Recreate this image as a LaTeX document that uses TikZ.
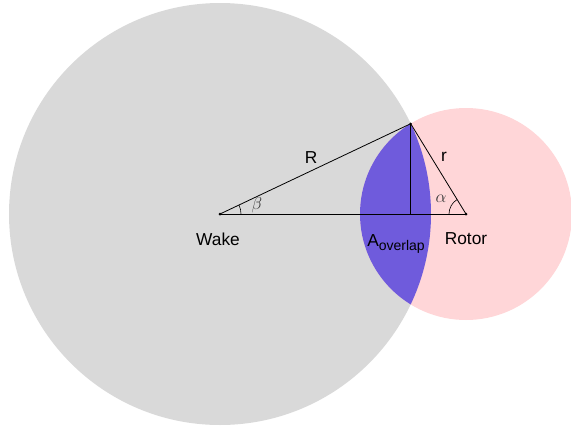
\documentclass[tikz,border=0pt]{standalone}
\usepackage{fontspec}
\setmainfont{Liberation Sans}
\usetikzlibrary{angles}
\definecolor{wakegray}{RGB}{217,217,217}
\definecolor{rotorpink}{RGB}{255,214,216}
\definecolor{overlapblue}{RGB}{111,91,220}
\definecolor{greekgray}{RGB}{55,55,55}
\begin{document}
\begin{tikzpicture}[x=1pt,y=-1pt,
  lbl/.style={font=\fontsize{17.3}{20}\selectfont, inner sep=0pt},
  greek/.style={font=\fontsize{18}{21}\selectfont, text=greekgray, inner sep=0pt},
  edge/.style={draw=black, line width=0.8pt},
  dotm/.style={circle, fill=black, inner sep=0pt, minimum size=3pt}]
\useasboundingbox (0,0) rectangle (571,437);
\coordinate (wake) at (220,214);
\coordinate (rotor) at (466,214);
\coordinate (P) at (410.7,123.7);
\coordinate (F) at (410.7,214);
\fill[wakegray] (wake) circle[radius=211];
\fill[rotorpink] (rotor) circle[radius=106];
\begin{scope}
  \clip (wake) circle[radius=211];
  \fill[overlapblue] (rotor) circle[radius=106];
\end{scope}
\draw[edge] (wake) -- (P);
\draw[edge] (P) -- (rotor);
\draw[edge] (wake) -- (rotor);
\draw[edge] (P) -- (F);
\pic[draw=black, line width=0.6pt, angle radius=21pt] {angle = rotor--wake--P};
\pic[draw=black, line width=0.6pt, angle radius=17pt] {angle = P--rotor--wake};
\node[dotm] (wakedot) at (wake) {};
\node[dotm] (rotordot) at (rotor) {};
\node[dotm, minimum size=2.5pt] (Pdot) at (P) {};
\node[lbl] (wakelbl) at (218,239) {Wake};
\node[lbl] (rotorlbl) at (466,239) {Rotor};
\node[lbl] (Rlbl) at (311,158) {R};
\node[lbl] (rlbl) at (444,157) {r};
\node[lbl] (Albl) at (396,244) {A\raisebox{-0.45ex}{\fontsize{14}{16}\selectfont overlap}};
\node[greek] (betalbl) at (257,205) {$\beta$};
\node[greek] (alphalbl) at (441,199) {$\alpha$};
\end{tikzpicture}
\end{document}
